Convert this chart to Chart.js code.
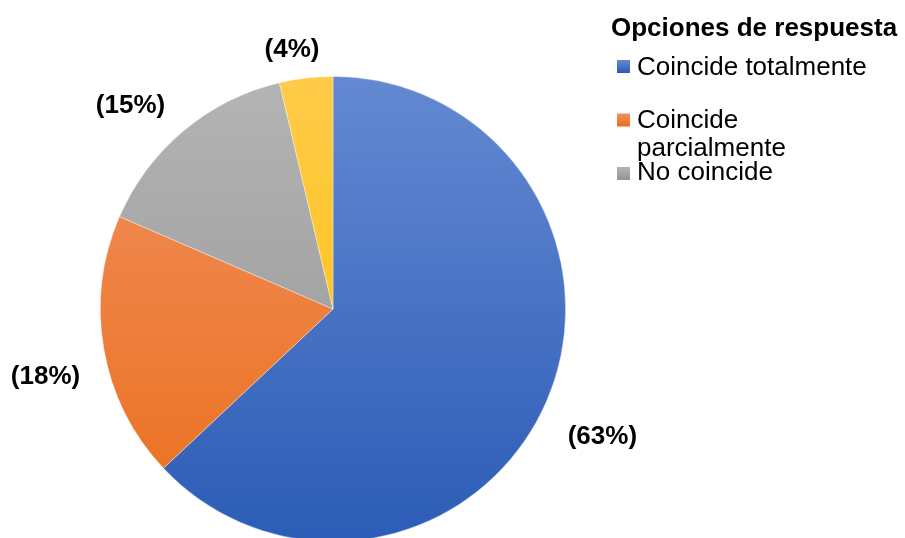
<!DOCTYPE html>
<html>
<head>
<meta charset="utf-8">
<script src="https://cdn.jsdelivr.net/npm/chart.js@4/dist/chart.umd.min.js"></script>
<style>
  html, body { margin: 0; padding: 0; background: #fff; overflow: hidden; }
  #wrap { position: relative; width: 905px; height: 546px; }
</style>
</head>
<body>
<div id="wrap"><canvas id="chart-pie"></canvas></div>
<script>
const categories = ['Coincide totalmente', 'Coincide parcialmente', 'No coincide', 'No responde'];
const shares = [63, 18.5, 14.8, 3.7];
const pieLabels = ['(63%)', '(18%)', '(15%)', '(4%)'];
const legendTitle = 'Opciones de respuesta';
const legendShown = 3; // only three entries visible in the legend

// Gradient stops per slice (top -> bottom)
const sliceColors = [
  ['#6489d2', '#2c5cb6'],
  ['#f39060', '#e96f1c'],
  ['#b4b4b4', '#939393'],
  ['#ffcb4a', '#ffbf00']
];

const fontFamily = '"Liberation Sans", Arial, sans-serif';

function sliceFill(context) {
  const chart = context.chart;
  const area = chart.chartArea;
  if (!area) return sliceColors[context.dataIndex][0];
  const g = chart.ctx.createLinearGradient(0, area.top, 0, area.bottom);
  g.addColorStop(0, sliceColors[context.dataIndex][0]);
  g.addColorStop(1, sliceColors[context.dataIndex][1]);
  return g;
}

// Percentage labels placed outside each slice
const outsideLabels = {
  id: 'outsideLabels',
  afterDatasetsDraw(chart) {
    const ctx = chart.ctx;
    const meta = chart.getDatasetMeta(0);
    const radial = [1.282, 1.27, 1.232, 1.13];
    const shiftDeg = [2, -3.4, -5, -2.3];
    ctx.save();
    ctx.font = 'bold 26px ' + fontFamily;
    ctx.fillStyle = '#000';
    ctx.textAlign = 'center';
    ctx.textBaseline = 'middle';
    meta.data.forEach((arc, i) => {
      const mid = (arc.startAngle + arc.endAngle) / 2 + shiftDeg[i] * Math.PI / 180;
      const r = arc.outerRadius * radial[i];
      ctx.fillText(pieLabels[i], arc.x + Math.cos(mid) * r, arc.y + Math.sin(mid) * r);
    });
    ctx.restore();
  }
};

// Legend drawn to the right, as in the reference (wrapped second entry)
const sideLegend = {
  id: 'sideLegend',
  afterDraw(chart) {
    const ctx = chart.ctx;
    ctx.save();
    ctx.fillStyle = '#000';
    ctx.textBaseline = 'alphabetic';
    ctx.font = 'bold 26px ' + fontFamily;
    ctx.fillText(legendTitle, 611, 36);
    ctx.font = '26px ' + fontFamily;
    const rows = [
      { box: 66.5, base: [75] , lines: ['Coincide totalmente'] },
      { box: 120, base: [128, 156], lines: ['Coincide', 'parcialmente'] },
      { box: 173.5, base: [180], lines: ['No coincide'] }
    ];
    for (let i = 0; i < legendShown; i++) {
      const row = rows[i];
      const g = ctx.createLinearGradient(0, row.box - 6.5, 0, row.box + 6.5);
      g.addColorStop(0, sliceColors[i][0]);
      g.addColorStop(1, sliceColors[i][1]);
      ctx.fillStyle = g;
      ctx.fillRect(617, row.box - 6.5, 13, 13);
      ctx.fillStyle = '#000';
      row.lines.forEach((t, k) => ctx.fillText(t, 637, row.base[k]));
    }
    ctx.restore();
  }
};

new Chart(document.getElementById('chart-pie'), {
  type: 'pie',
  data: {
    labels: categories,
    datasets: [{
      data: shares,
      backgroundColor: sliceFill,
      borderColor: 'rgba(255,255,255,0.45)',
      borderWidth: 0.8
    }]
  },
  options: {
    responsive: true,
    maintainAspectRatio: false,
    animation: false,
    layout: { padding: { left: 100, right: 339, top: 76, bottom: 4 } },
    plugins: {
      legend: { display: false },
      tooltip: { enabled: false }
    }
  },
  plugins: [outsideLabels, sideLegend]
});
</script>
</body>
</html>
